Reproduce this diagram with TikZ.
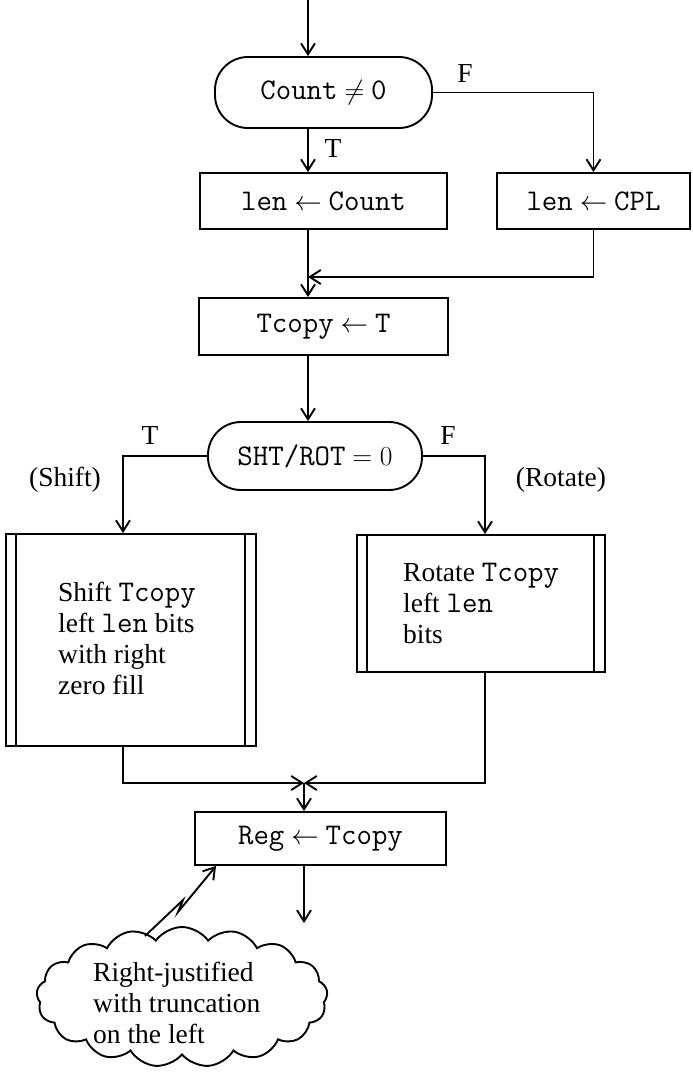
\RequirePackage{fix-cm}
\documentclass[tikz,border=0pt]{standalone}
\usepackage{fontspec}
\setmainfont{Liberation Serif}
\usetikzlibrary{arrows.meta,shapes.symbols,calc}
\newcommand{\cd}[1]{{\ttfamily\fontsize{30}{36}\selectfont #1}}
\begin{document}
\begin{tikzpicture}[x=1pt,y=-1pt,
  every node/.style={font=\fontsize{27.5}{31}\selectfont},
  box/.style={draw, line width=1.9pt, inner sep=0pt},
  term/.style={box, rounded corners=33pt},
  ln/.style={line width=1.9pt},
  arr/.style={line width=1.9pt, -{Straight Barb[length=11pt,width=14pt,line width=1.9pt]}},
]
\useasboundingbox (0,0) rectangle (693,1072);

% nodes
\node[term, minimum width=217pt, minimum height=71pt] (cnt) at (323.5,92.5) {\cd{Count} $\neq$ \cd{0}};
\node[box, minimum width=247pt, minimum height=56pt] (lenc) at (323.5,201) {\cd{len} $\leftarrow$ \cd{Count}};
\node[box, minimum width=193pt, minimum height=56pt] (cpl) at (593.5,201) {\cd{len} $\leftarrow$ \cd{CPL}};
\node[box, minimum width=249pt, minimum height=57pt] (tcp) at (323.5,326.5) {\cd{Tcopy} $\leftarrow$ \cd{T}};
\node[term, minimum width=214pt, minimum height=68pt] (sht) at (315,456) {\cd{SHT/ROT} $= 0$};
\node[box, minimum width=250pt, minimum height=212pt] (shf) at (131,640) {};
\node[box, minimum width=248pt, minimum height=137pt] (rot) at (481,603.5) {};
\node[box, minimum width=251pt, minimum height=53pt] (reg) at (320.5,838.5) {\cd{Reg} $\leftarrow$ \cd{Tcopy}};

% double side bars
\draw[ln] ([xshift=11pt]shf.north west) -- ([xshift=11pt]shf.south west);
\draw[ln] ([xshift=-12pt]shf.north east) -- ([xshift=-12pt]shf.south east);
\draw[ln] ([xshift=11pt]rot.north west) -- ([xshift=11pt]rot.south west);
\draw[ln] ([xshift=-12pt]rot.north east) -- ([xshift=-12pt]rot.south east);

% box texts
\node[anchor=west, align=left, inner sep=0pt] (shtx) at (58,638) {Shift \cd{Tcopy}\\left \cd{len} bits\\with right\\zero fill};
\node[anchor=west, align=left, inner sep=0pt] (rotx) at (403,603.5) {Rotate \cd{Tcopy}\\left \cd{len}\\bits};

% labels
\node (lF1) at (465,73) {F};
\node (lT1) at (333,148) {T};
\node (lT2) at (150,435) {T};
\node (lF2) at (448,435) {F};
\node (lsh) at (65,480) {(Shift)};
\node (lro) at (561,480) {(Rotate)};

% cloud
\node[cloud, draw, line width=1.9pt, cloud puffs=17, cloud puff arc=110, aspect=2.1, minimum width=291pt, minimum height=140pt, inner sep=0pt] (cld) at (182,997) {};
\node[anchor=west, align=left, inner sep=0pt] (cldtx) at (93,1003) {Right-justified\\with truncation\\on the left};

% coordinates
\coordinate (start) at (308,0);
\coordinate (j1) at (308,277);
\coordinate (lcol) at (123,0);
\coordinate (rcol) at (485,0);
\coordinate (j2) at (304,783);
\coordinate (fin) at (304,923);
\coordinate (ltop) at (145,936);
\coordinate (lk1) at (183,900);
\coordinate (lk2) at (178,912);

% connectors
\draw[arr] (start) -- (start |- cnt.north);
\draw[arr] (cnt.south -| start) -- (lenc.north -| start);
\draw[arr] (cnt.east) -| (cpl.north);
\draw[arr] (cpl.south) |- (j1);
\draw[arr] (lenc.south -| start) -- (tcp.north -| start);
\draw[arr] (tcp.south -| start) -- (sht.north -| start);
\draw[arr] (sht.west) -| (shf.north -| lcol);
\draw[arr] (sht.east) -| (rot.north -| rcol);
\draw[arr] (shf.south -| lcol) |- (j2);
\draw[arr] (rot.south -| rcol) |- (j2);
\draw[arr] (j2) -- (reg.north -| j2);
\draw[arr] (reg.south -| j2) -- (fin);
\draw[arr] (ltop) -- (lk1) -- (lk2) -- ($(reg.south west)+(22,0)$);
\end{tikzpicture}
\end{document}
